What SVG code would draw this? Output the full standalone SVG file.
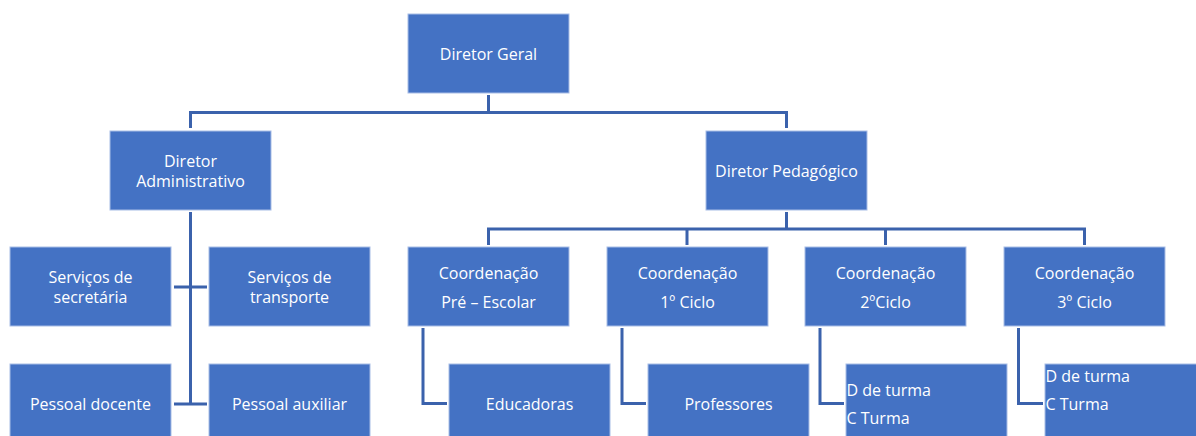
<svg xmlns="http://www.w3.org/2000/svg" width="1196" height="436" viewBox="0 0 1196 436">
<style>
.box{fill:#4472C4;stroke:#A8BDE6;stroke-width:1}
.t{font-family:"Open Sans","Liberation Sans",sans-serif;font-size:16px;fill:#FFFFFF;text-anchor:middle;dominant-baseline:central}
.l{text-anchor:start}
.c{fill:none;stroke:#3B62AC;stroke-width:3}
</style>
<rect width="1196" height="436" fill="#FFFFFF"/>
<g id="connectors">
<path class="c" d="M488.5 95V112.5M190.5 128V112.5H786.5V128"/>
<path class="c" d="M786.5 212V229M488.5 245V229H1084.5V245M687 229V245M885.5 229V245"/>
<path class="c" d="M190.5 212V404M174 287H207M174 404H207"/>
<path class="c" d="M423 328V403.5H447M622 328V403.5H646M820 328V403.5H844M1018.5 328V403.5H1043"/>
</g>
<g id="diretor-geral"><rect class="box" x="408" y="14" width="161" height="79"/><text class="t" x="488.5" y="53.5">Diretor Geral</text></g>
<g id="diretor-administrativo"><rect class="box" x="110" y="131" width="161" height="79"/><text class="t" x="190.5" y="160.5">Diretor</text><text class="t" x="190.5" y="180.5">Administrativo</text></g>
<g id="diretor-pedagogico"><rect class="box" x="706" y="131" width="161" height="79"/><text class="t" x="786.5" y="170.5">Diretor Pedagógico</text></g>
<g id="servicos-secretaria"><rect class="box" x="10" y="247" width="161" height="79"/><text class="t" x="90.5" y="276.5">Serviços de</text><text class="t" x="90.5" y="296.5">secretária</text></g>
<g id="servicos-transporte"><rect class="box" x="209" y="247" width="161" height="79"/><text class="t" x="289.5" y="276.5">Serviços de</text><text class="t" x="289.5" y="296.5">transporte</text></g>
<g id="pessoal-docente"><rect class="box" x="10" y="364" width="161" height="79"/><text class="t" x="90.5" y="403.5">Pessoal docente</text></g>
<g id="pessoal-auxiliar"><rect class="box" x="209" y="364" width="161" height="79"/><text class="t" x="289.5" y="403.5">Pessoal auxiliar</text></g>
<g id="coord-pre-escolar"><rect class="box" x="408" y="247" width="161" height="79"/><text class="t" x="488.5" y="272.5">Coordenação</text><text class="t" x="488.5" y="301.5">Pré – Escolar</text></g>
<g id="coord-1ciclo"><rect class="box" x="607" y="247" width="161" height="79"/><text class="t" x="687.5" y="272.5">Coordenação</text><text class="t" x="687.5" y="301.5">1º Ciclo</text></g>
<g id="coord-2ciclo"><rect class="box" x="805" y="247" width="161" height="79"/><text class="t" x="885.5" y="272.5">Coordenação</text><text class="t" x="885.5" y="301.5">2ºCiclo</text></g>
<g id="coord-3ciclo"><rect class="box" x="1004" y="247" width="161" height="79"/><text class="t" x="1084.5" y="272.5">Coordenação</text><text class="t" x="1084.5" y="301.5">3º Ciclo</text></g>
<g id="educadoras"><rect class="box" x="449" y="364" width="161" height="79"/><text class="t" x="529.5" y="403.5">Educadoras</text></g>
<g id="professores"><rect class="box" x="648" y="364" width="161" height="79"/><text class="t" x="728.5" y="403.5">Professores</text></g>
<g id="turma-2ciclo"><rect class="box" x="846" y="364" width="161" height="79"/><text class="t l" x="846.5" y="389.5">D de turma</text><text class="t l" x="846.5" y="417.5">C Turma</text></g>
<g id="turma-3ciclo"><rect class="box" x="1045" y="364" width="161" height="79"/><text class="t l" x="1045.5" y="375.5">D de turma</text><text class="t l" x="1045.5" y="403.5">C Turma</text></g>
</svg>
